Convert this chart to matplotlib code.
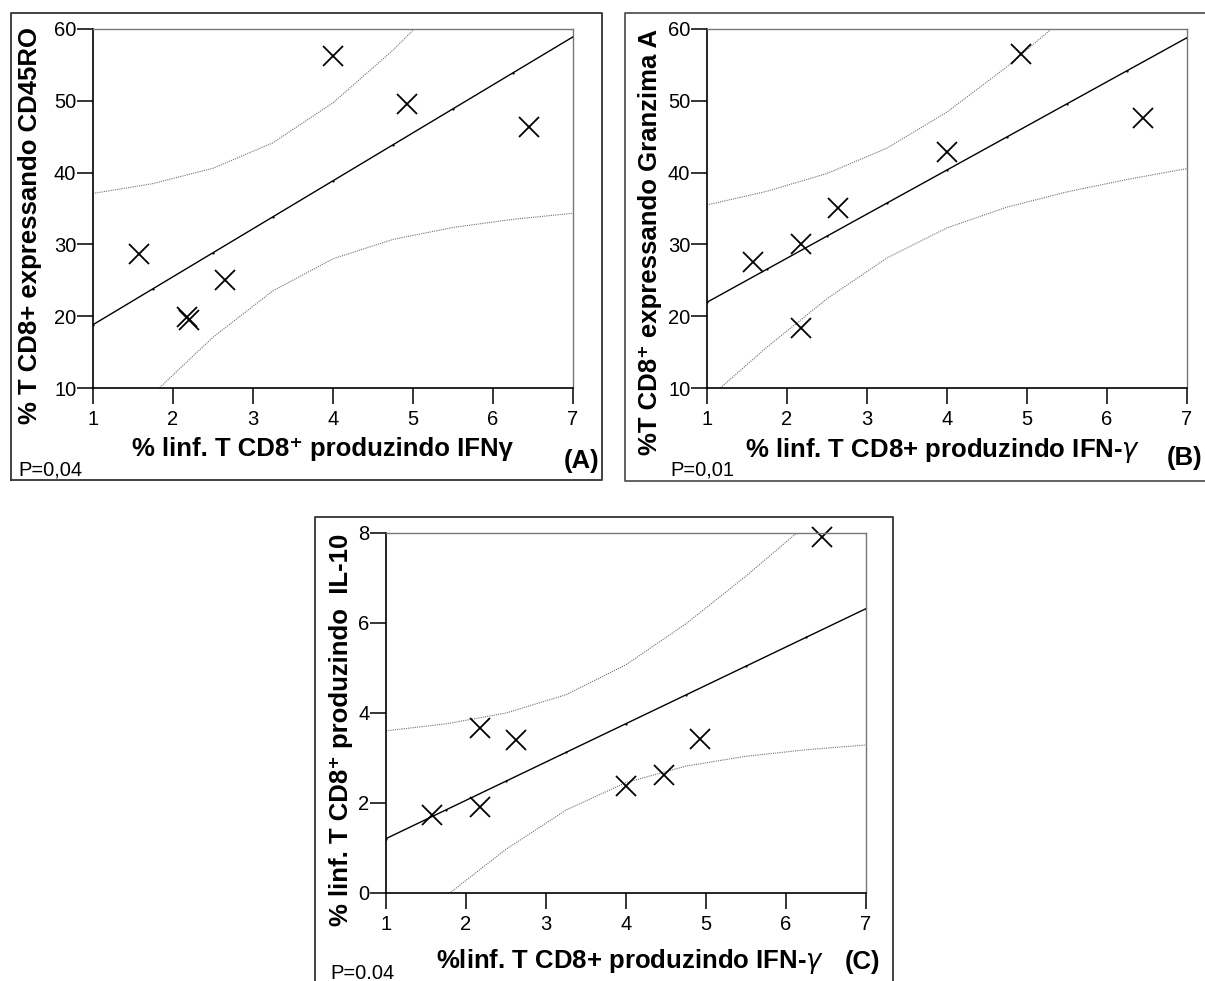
#dispersao IFN-gama (% linf. T CD8+) contra CD45RO, Granzima A e IL-10, com reta de regressao e IC 95%
import numpy as np
import matplotlib
matplotlib.use('Agg')
import matplotlib.pyplot as plt
from matplotlib.lines import Line2D

plt.rcParams['font.family'] = ['Liberation Sans', 'DejaVu Sans']

#painel A: IFN-gama x CD45RO
ifn_a = [1.57, 2.17, 2.20, 2.65, 4.00, 4.93, 6.45]
cd45ro = [28.6, 19.9, 19.5, 25.0, 56.2, 49.5, 46.4]

#painel B: IFN-gama x Granzima A
ifn_b = [1.58, 2.18, 2.17, 2.64, 4.00, 4.93, 6.45]
granz = [27.5, 30.0, 18.3, 35.0, 42.8, 56.5, 47.6]

#painel C: IFN-gama x IL-10
ifn_c = [1.58, 2.175, 2.175, 2.63, 4.00, 4.475, 4.925, 6.45]
il10 = [1.73, 3.66, 1.92, 3.40, 2.38, 2.62, 3.42, 7.92]

xticks = [1, 2, 3, 4, 5, 6, 7]
yticks_ab = [10, 20, 30, 40, 50, 60]
yticks_c = [0, 2, 4, 6, 8]

#t de student (97,5%) para n-2 graus de liberdade
t975 = {5: 2.571, 6: 2.447}

W, H = 1205, 981
def fx(x):
    return x / W
def fy(y):
    return 1 - y / H

fig = plt.figure(figsize=(12.05, 9.81), dpi=100)


def painel(x0, ytop, ybot, x, y, yticks):
    ax = fig.add_axes([fx(x0), fy(ybot), 480 / W, (ybot - ytop) / H])
    x = np.array(x)
    y = np.array(y)
    n = len(x)
    b, a = np.polyfit(x, y, 1)
    s = np.sqrt(np.sum((y - (a + b * x)) ** 2) / (n - 2))
    sxx = np.sum((x - x.mean()) ** 2)
    xs = np.linspace(xticks[0], xticks[-1], 9)
    fit = a + b * xs
    hw = t975[n - 2] * s * np.sqrt(1 / n + (xs - x.mean()) ** 2 / sxx)

    ax.plot(xs, fit, color='black', lw=1, marker='.', ms=1.2)
    ax.plot(xs, fit + hw, color='#707070', lw=0.8, ls=(0, (1, 1)))
    ax.plot(xs, fit - hw, color='#707070', lw=0.8, ls=(0, (1, 1)))
    ax.plot(x, y, 'x', color='black', ms=14, mew=1.3, clip_on=False)

    ax.set_xlim(xticks[0], xticks[-1])
    ax.set_ylim(yticks[0], yticks[-1])
    ax.set_xticks(xticks)
    ax.set_yticks(yticks)
    for lado in ['top', 'right']:
        ax.spines[lado].set_color('#777777')
        ax.spines[lado].set_linewidth(1)
    for lado in ['left', 'bottom']:
        ax.spines[lado].set_color('black')
        ax.spines[lado].set_linewidth(1.2)
    ax.tick_params(direction='out', length=11.5, width=1.1, labelsize=14.5)
    ax.tick_params(axis='x', pad=4)
    ax.tick_params(axis='y', pad=0.5)
    return ax


painel(93, 29, 388, ifn_a, cd45ro, yticks_ab)
painel(707, 29, 388, ifn_b, granz, yticks_ab)
painel(386, 533, 893, ifn_c, il10, yticks_c)


#molduras dos paineis
def linha(xs, ys, cor='#333333'):
    fig.add_artist(Line2D([fx(v) for v in xs], [fy(v) for v in ys],
                          transform=fig.transFigure, color=cor, lw=1.3))

linha([11, 11, 602, 602, 11], [480, 13, 13, 480, 480])
linha([1205, 625, 625, 1205], [13, 13, 481, 481], cor='#555555')
linha([315, 315, 893, 893], [981, 517, 517, 981])

#rotulos
rot = dict(fontsize=18.5, fontweight='bold')
fig.text(fx(322), fy(456), '% linf. T CD8⁺ produzindo IFNγ', ha='center', va='baseline', **rot)
fig.text(fx(30), fy(225), '% T CD8+ expressando CD45RO', rotation=90, ha='center', va='center', **rot)
fig.text(fx(599), fy(468), '(A)', ha='right', va='baseline', **rot)
fig.text(fx(18), fy(476), 'P=0,04', ha='left', va='baseline', fontsize=14.5)

fig.text(fx(943), fy(457), r'% linf. T CD8+ produzindo IFN-$\gamma$', ha='center', va='baseline', **rot)
fig.text(fx(650), fy(242), '%T CD8⁺ expressando Granzima A', rotation=90, ha='center', va='center', **rot)
fig.text(fx(1202), fy(465), '(B)', ha='right', va='baseline', **rot)
fig.text(fx(670), fy(475), 'P=0,01', ha='left', va='baseline', fontsize=14.5)

fig.text(fx(630), fy(968), r'%linf. T CD8+ produzindo IFN-$\gamma$', ha='center', va='baseline', **rot)
fig.text(fx(341), fy(730), '% linf. T CD8⁺ produzindo  IL-10', rotation=90, ha='center', va='center', **rot)
fig.text(fx(880), fy(969), '(C)', ha='right', va='baseline', **rot)
fig.text(fx(330), fy(979), 'P=0.04', ha='left', va='baseline', fontsize=14.5)

fig.savefig('out.png', dpi=100)
